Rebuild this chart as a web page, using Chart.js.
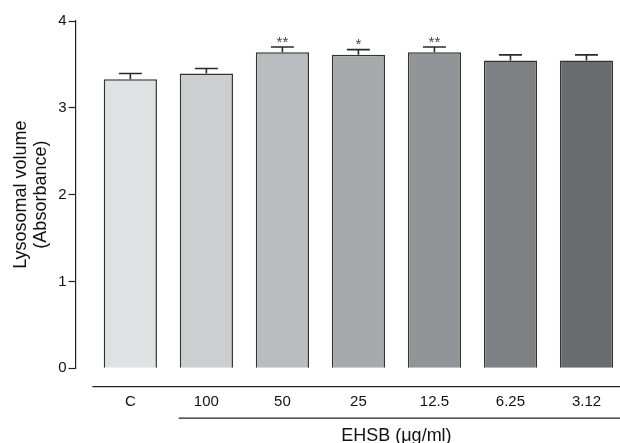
<!DOCTYPE html>
<html><head><meta charset="utf-8">
<script src="https://cdn.jsdelivr.net/npm/chart.js@4"></script>
<style>html,body{margin:0;padding:0;background:#fff;}#wrap{width:620px;height:443px;}</style>
</head><body><div id="wrap"><canvas id="c" width="620" height="443"></canvas></div>
<script>
const categories = ['C', '100', '50', '25', '12.5', '6.25', '3.12'];
const meanValues = [3.33, 3.395, 3.64, 3.61, 3.64, 3.545, 3.545];
const semValues = [0.065, 0.058, 0.06, 0.06, 0.06, 0.065, 0.065];
const significance = ['', '', '**', '*', '**', '', ''];
const barColors = ['#e0e1e3', '#cdced0', '#bbbcbf', '#a8a9ac', '#939497', '#7f8083', '#6a6b6e'];
const yTicks = [0, 1, 2, 3, 4];
const xTitle = 'EHSB (\u03bcg/ml)';
const yTitle = ['Lysosomal volume', '(Absorbance)'];

const FONT = 'Liberation Sans, Arial, sans-serif';

const decor = {
  id: 'decor',
  afterDatasetsDraw(chart) {
    const ctx = chart.ctx, x = chart.scales.x, y = chart.scales.y;
    const meta = chart.getDatasetMeta(0);
    ctx.save();
    // error bars
    ctx.strokeStyle = '#2a2a2a';
    ctx.lineWidth = 1.6;
    meta.data.forEach((bar, i) => {
      const cx = bar.x;
      const top = y.getPixelForValue(meanValues[i]);
      const et = y.getPixelForValue(meanValues[i] + semValues[i]);
      ctx.beginPath();
      ctx.moveTo(cx, top); ctx.lineTo(cx, et);
      ctx.moveTo(cx - 11.5, et); ctx.lineTo(cx + 11.5, et);
      ctx.stroke();
      if (significance[i]) {
        ctx.fillStyle = '#444';
        ctx.font = '15px ' + FONT;
        ctx.textAlign = 'center';
        ctx.textBaseline = 'alphabetic';
        ctx.fillText(significance[i], cx, et - 0.5);
      }
    });
    // lines below axis
    const w = chart.width;
    const y0 = y.getPixelForValue(0);
    ctx.strokeStyle = '#222';
    ctx.lineWidth = 1.2;
    ctx.beginPath();
    ctx.moveTo(x.getPixelForValue(-0.5), y0 + 18.5);
    ctx.lineTo(w, y0 + 18.5);
    const b1 = meta.data[1];
    ctx.moveTo(b1.x - b1.width / 2 - 1, y0 + 50);
    ctx.lineTo(w, y0 + 50);
    ctx.stroke();
    // x title
    ctx.fillStyle = '#111';
    ctx.font = '18px ' + FONT;
    ctx.textAlign = 'center';
    ctx.textBaseline = 'middle';
    const mid = (meta.data[1].x + meta.data[6].x) / 2;
    ctx.fillText(xTitle, mid, y0 + 68);
    ctx.restore();
  }
};

new Chart(document.getElementById('c'), {
  type: 'bar',
  data: {
    datasets: [{
      data: meanValues.map((v, i) => ({ x: i, y: v })),
      backgroundColor: barColors,
      borderColor: '#333',
      borderWidth: 1.5,
      barPercentage: 0.7,
      categoryPercentage: 1.0
    }]
  },
  options: {
    responsive: false,
    animation: false,
    events: [],
    layout: { padding: { top: 21, right: 0, left: 11, bottom: 31.8 } },
    plugins: { legend: { display: false }, tooltip: { enabled: false } },
    scales: {
      x: {
        type: 'linear',
        offset: false,
        min: -0.721,
        max: 6.441,
        grid: { display: true, drawOnChartArea: false, drawTicks: true, tickLength: 25, tickColor: 'rgba(0,0,0,0)', color: 'rgba(0,0,0,0)' },
        border: { display: false },
        afterBuildTicks(s) { s.ticks = categories.map((c, i) => ({ value: i })); },
        ticks: {
          callback: (v) => categories[v],
          color: '#111',
          font: { family: FONT, size: 15 },
          padding: 0,
          maxRotation: 0,
          autoSkip: false
        }
      },
      y: {
        min: 0,
        max: 4,
        afterBuildTicks(s) { s.ticks = yTicks.map(v => ({ value: v })); },
        grid: { display: true, drawOnChartArea: false, drawTicks: true, tickLength: 7, color: '#222', tickColor: '#222', tickWidth: 1.2 },
        border: { display: true, color: '#222', width: 1.2 },
        ticks: { color: '#111', font: { family: FONT, size: 15 }, padding: 2 },
        title: {
          display: true,
          text: yTitle,
          color: '#111',
          font: { family: FONT, size: 18, lineHeight: 1.1 },
          padding: { top: 0, bottom: 5.6 }
        }
      }
    }
  },
  plugins: [decor]
});
</script>
</body></html>
